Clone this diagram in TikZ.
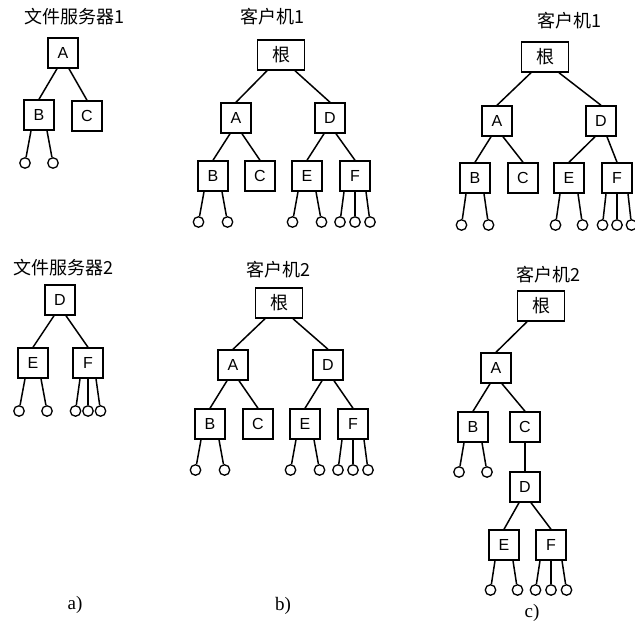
\documentclass[tikz,border=0pt]{standalone}
\usepackage{fontspec}
\setmainfont{Liberation Serif}
\newfontfamily\cjk{Noto Sans CJK SC}
\newfontfamily\latsans{Liberation Sans}
\tikzset{
  box/.style={draw, line width=1.5pt, minimum width=30pt, minimum height=30pt, inner sep=0pt, font=\latsans\fontsize{16}{16}\selectfont},
  rootbox/.style={box, minimum width=47pt, font=\cjk\fontsize{18}{18}\selectfont},
  leaf/.style={draw, circle, line width=1.3pt, minimum size=10.5pt, inner sep=0pt},
  title/.style={font=\cjk\fontsize{18}{18}\selectfont, inner sep=0pt},
  sublabel/.style={font=\fontsize{19}{19}\selectfont, inner sep=0pt},
  edge/.style={line width=1.5pt}
}
% two leaves below node #1, circle offsets #2, line offsets #3, vertical distance #4
\newcommand\twoleafs[4]{%
  \node[leaf] (#1la) at ([xshift=-#2pt,yshift=-#4pt]#1.center) {};
  \node[leaf] (#1lb) at ([xshift=#2pt,yshift=-#4pt]#1.center) {};
  \draw[edge] ([xshift=-#3pt]#1.south) -- (#1la);
  \draw[edge] ([xshift=#3pt]#1.south) -- (#1lb);
}
\newcommand\threeleafs[4]{%
  \node[leaf] (#1la) at ([xshift=-#2pt,yshift=-#4pt]#1.center) {};
  \node[leaf] (#1lb) at ([yshift=-#4pt]#1.center) {};
  \node[leaf] (#1lc) at ([xshift=#2pt,yshift=-#4pt]#1.center) {};
  \draw[edge] ([xshift=-#3pt]#1.south) -- (#1la);
  \draw[edge] (#1.south) -- (#1lb);
  \draw[edge] ([xshift=#3pt]#1.south) -- (#1lc);
}
\newcommand\kid[3]{\draw[edge] ([xshift=#3pt]#1.south) -- (#2.north);}
\begin{document}
\begin{tikzpicture}[x=1pt,y=-1pt]
\useasboundingbox (0,0) rectangle (635,629);
% ---------- a) top
\node[title] (ta1) at (74,17) {文件服务器1};
\node[box] (aA) at (63,53) {A};
\node[box] (aB) at (39,115) {B};
\node[box] (aC) at (87,116) {C};
\kid{aA}{aB}{-6}\kid{aA}{aC}{6}
\twoleafs{aB}{14}{8}{48}
% ---------- a) bottom
\node[title] (ta2) at (63,268) {文件服务器2};
\node[box] (a2D) at (60,300) {D};
\node[box] (a2E) at (33,363) {E};
\node[box] (a2F) at (88,363) {F};
\kid{a2D}{a2E}{-6}\kid{a2D}{a2F}{6}
\twoleafs{a2E}{14}{8}{48}
\threeleafs{a2F}{12.5}{8}{48}
% ---------- b) top
\node[title] (tb1) at (272,17) {客户机1};
\node[rootbox] (bR) at (281,55) {根};
\node[box] (bA) at (236,118) {A};
\node[box] (bD) at (330,118) {D};
\node[box] (bB) at (213,176) {B};
\node[box] (bC) at (260,176) {C};
\node[box] (bE) at (307,176) {E};
\node[box] (bF) at (355,176) {F};
\kid{bR}{bA}{-14}\kid{bR}{bD}{14}
\kid{bA}{bB}{-6}\kid{bA}{bC}{6}
\kid{bD}{bE}{-6}\kid{bD}{bF}{6}
\twoleafs{bB}{14.5}{9}{46}
\twoleafs{bE}{14.5}{9}{46}
\threeleafs{bF}{15}{11}{46}
% ---------- b) bottom
\node[title] (tb2) at (278,270) {客户机2};
\node[rootbox] (b2R) at (279,303) {根};
\node[box] (b2A) at (233,365) {A};
\node[box] (b2D) at (328,365) {D};
\node[box] (b2B) at (210,424) {B};
\node[box] (b2C) at (258,424) {C};
\node[box] (b2E) at (305,424) {E};
\node[box] (b2F) at (353,424) {F};
\kid{b2R}{b2A}{-14}\kid{b2R}{b2D}{14}
\kid{b2A}{b2B}{-6}\kid{b2A}{b2C}{6}
\kid{b2D}{b2E}{-6}\kid{b2D}{b2F}{6}
\twoleafs{b2B}{14.5}{9}{46}
\twoleafs{b2E}{14.5}{9}{46}
\threeleafs{b2F}{15}{11}{46}
% ---------- c) top
\node[title] (tc1) at (569,21) {客户机1};
\node[rootbox] (cR) at (545,57) {根};
\node[box] (cA) at (497,121) {A};
\node[box] (cD) at (601,121) {D};
\node[box] (cB) at (475,178) {B};
\node[box] (cC) at (523,178) {C};
\node[box] (cE) at (569,178) {E};
\node[box] (cF) at (617,178) {F};
\kid{cR}{cA}{-14}\kid{cR}{cD}{14}
\kid{cA}{cB}{-6}\kid{cA}{cC}{6}
\kid{cD}{cE}{-6}\kid{cD}{cF}{6}
\twoleafs{cB}{13.5}{9}{47}
\twoleafs{cE}{13.5}{9}{47}
\threeleafs{cF}{14.5}{11}{47}
% ---------- c) bottom
\node[title] (tc2) at (548,275) {客户机2};
\node[rootbox] (c2R) at (541,306) {根};
\node[box] (c2A) at (496,368) {A};
\node[box] (c2B) at (473,427) {B};
\node[box] (c2C) at (525,427) {C};
\node[box] (c2D) at (525,487) {D};
\node[box] (c2E) at (504,545) {E};
\node[box] (c2F) at (551,545) {F};
\kid{c2R}{c2A}{-14}
\kid{c2A}{c2B}{-6}\kid{c2A}{c2C}{6}
\draw[edge] (c2C.south) -- (c2D.north);
\kid{c2D}{c2E}{-6}\kid{c2D}{c2F}{6}
\twoleafs{c2B}{14}{9}{45}
\twoleafs{c2E}{13.5}{9}{45}
\threeleafs{c2F}{15.5}{11}{45}
% ---------- sub labels
\node[sublabel] (la) at (75,605) {a)};
\node[sublabel] (lb) at (283,606) {b)};
\node[sublabel] (lc) at (532,613) {c)};
\end{tikzpicture}
\end{document}
